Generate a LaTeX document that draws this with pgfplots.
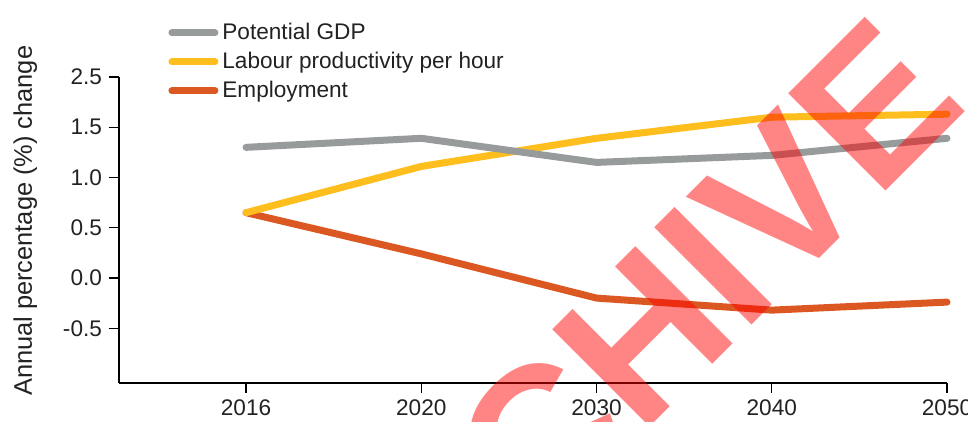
\documentclass[border=0pt]{standalone}
\usepackage{pgfplots}
\pgfplotsset{compat=1.18}
\usepackage{fontspec}
\setmainfont{Liberation Sans}
\definecolor{gdp}{HTML}{989B9B}
\definecolor{lab}{HTML}{FDBE1E}
\definecolor{emp}{HTML}{DB5822}
\definecolor{txt}{HTML}{222222}
\begin{document}
\begin{tikzpicture}
\begin{axis}[
 scale only axis, width=414pt, height=153pt,
 at={(0,0)}, anchor=south west,
 xmin=-0.725, xmax=4, ymin=-1.045, ymax=2,
 clip=false,
 axis lines=left, axis line style={-, line width=0.6pt, black},
 xtick={0,1,2,3,4}, xticklabels={2016,2020,2030,2040,2050},
 ytick={-0.5,0,0.5,1,1.5,2}, yticklabels={-0.5,0.0,0.5,1.0,1.5,2.5},
 tick align=outside, major tick length=5pt, tick style={line width=0.6pt, black},
 ticklabel style={font=\fontsize{11.3}{13}\selectfont, text=txt},
 /pgf/number format/assume math mode=true,
 ylabel={Annual percentage (\%) change},
 ylabel style={font=\fontsize{12.7}{15}\selectfont, text=txt, at={(axis description cs:-0.113,0.53)}, anchor=center},
 legend style={draw=none, fill=none, at={(axis description cs:0.0592,1.19)}, anchor=north west,
   font=\fontsize{11.3}{13}\selectfont, text=txt, row sep=0.8pt, inner sep=0pt},
 legend cell align=left,
 reverse legend,
 legend image code/.code={\draw[#1, line width=3.5pt, line cap=round] (1.75pt,0pt) -- (23.25pt,0pt);},
 every axis plot/.append style={line width=3.5pt, line cap=round, line join=round, no marks},
]
\addplot[emp] coordinates {(0,0.65) (1,0.24) (2,-0.20) (3,-0.32) (4,-0.24)};
\addlegendentry{Employment}
\addplot[lab] coordinates {(0,0.65) (1,1.11) (2,1.39) (3,1.60) (4,1.63)};
\addlegendentry{Labour productivity per hour}
\addplot[gdp] coordinates {(0,1.30) (1,1.39) (2,1.15) (3,1.22) (4,1.39)};
\addlegendentry{Potential GDP}
\node[overlay, rotate=45, anchor=base east, text=red, text opacity=0.48, font=\fontsize{100}{100}\selectfont\bfseries] at (axis description cs:1.035,0.92) {ARCHIVE};
\end{axis}
\pgfresetboundingbox
\path (-59.5pt,-19.5pt) rectangle (424.5pt,191.5pt);
\end{tikzpicture}
\end{document}
